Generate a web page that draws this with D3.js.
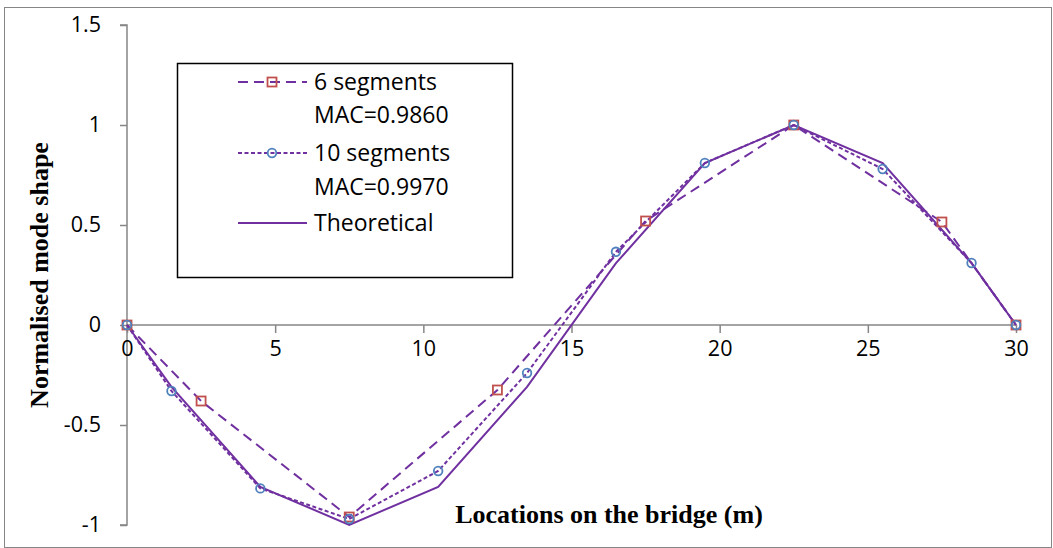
<!DOCTYPE html>
<html>
<head>
<meta charset="utf-8">
<script src="https://cdn.jsdelivr.net/npm/d3@7"></script>
<style>
  html, body { margin: 0; padding: 0; background: #fff; }
  svg { display: block; }
</style>
</head>
<body>
<svg id="chart" width="1053" height="548"></svg>
<script>
// Mode shape along the bridge: measured (6 and 10 segment) vs theoretical
const seg6X = [0, 2.5, 7.5, 12.5, 17.5, 22.5, 27.5, 30];
const seg6Y = [0, -0.38, -0.96, -0.325, 0.52, 1.0, 0.515, 0];

const seg10X = [0, 1.5, 4.5, 7.5, 10.5, 13.5, 16.5, 19.5, 22.5, 25.5, 28.5, 30];
const seg10Y = [0, -0.33, -0.817, -0.97, -0.73, -0.24, 0.366, 0.81, 1.0, 0.78, 0.31, 0];

const theoX = [0, 1.5, 4.5, 7.5, 10.5, 13.5, 16.5, 19.5, 22.5, 25.5, 28.5, 30];
const theoY = [0, -0.309, -0.809, -1.0, -0.809, -0.309, 0.309, 0.809, 1.0, 0.809, 0.309, 0];

const xTicks = [0, 5, 10, 15, 20, 25, 30];
const yTicks = [-1, -0.5, 0, 0.5, 1, 1.5];

const legendLabels = [["6 segments", "MAC=0.9860"], ["10 segments", "MAC=0.9970"], ["Theoretical"]];

const purple = "#7030A0";
const axisGrey = "#868686";
const sansFont = "'Open Sans', 'Noto Sans', sans-serif";
const serifFont = "'Liberation Serif', 'DejaVu Serif', serif";

const svg = d3.select("#chart");

// outer frame
svg.append("rect")
  .attr("x", 4.5).attr("y", 7.5)
  .attr("width", 1047).attr("height", 540)
  .attr("fill", "#fff").attr("stroke", axisGrey).attr("stroke-width", 1);

const x = d3.scaleLinear().domain([0, 30]).range([127, 1016]);
const y = d3.scaleLinear().domain([-1, 1.5]).range([525, 25]);

// y axis (left)
const yAxis = svg.append("g")
  .attr("transform", `translate(${x(0)},0)`)
  .call(d3.axisLeft(y).tickValues(yTicks).tickSize(7).tickPadding(19)
    .tickFormat(d => String(d)));
yAxis.select(".domain").attr("stroke", axisGrey).attr("stroke-width", 1.5)
  .attr("d", `M-7,${y(1.5)}H0V${y(-1)}H-7`);
yAxis.selectAll(".tick line").attr("stroke", axisGrey).attr("stroke-width", 1.5);
yAxis.selectAll(".tick text")
  .attr("font-family", sansFont).attr("font-size", 21.5).attr("fill", "#000");

// x axis at zero
const xAxis = svg.append("g")
  .attr("transform", `translate(0,${y(0)})`)
  .call(d3.axisBottom(x).tickValues(xTicks).tickSize(8).tickPadding(8)
    .tickFormat(d => String(d)));
xAxis.select(".domain").attr("stroke", axisGrey).attr("stroke-width", 1.5)
  .attr("d", `M${x(0)},0H${x(30)}`);
xAxis.selectAll(".tick line").attr("stroke", axisGrey).attr("stroke-width", 1.5);
xAxis.selectAll(".tick text")
  .attr("font-family", sansFont).attr("font-size", 21.5).attr("fill", "#000");

// axis titles
svg.append("text")
  .attr("x", 609).attr("y", 523)
  .attr("text-anchor", "middle")
  .attr("font-family", serifFont).attr("font-weight", "bold").attr("font-size", 26)
  .attr("fill", "#000")
  .text("Locations on the bridge (m)");

svg.append("text")
  .attr("transform", "translate(48,275) rotate(-90)")
  .attr("text-anchor", "middle")
  .attr("font-family", serifFont).attr("font-weight", "bold").attr("font-size", 26)
  .attr("fill", "#000")
  .text("Normalised mode shape");

const line = d3.line().x(d => x(d[0])).y(d => y(d[1]));

const series = [
  { xs: seg6X, ys: seg6Y, dash: "10,6", marker: "square", color: "#C0504D" },
  { xs: seg10X, ys: seg10Y, dash: "4,2.5", marker: "circle", color: "#4F81BD" },
  { xs: theoX, ys: theoY, dash: null, marker: null }
];

const plot = svg.append("g");
series.forEach(s => {
  const pts = s.xs.map((v, i) => [v, s.ys[i]]);
  plot.append("path")
    .datum(pts)
    .attr("d", line)
    .attr("fill", "none")
    .attr("stroke", purple)
    .attr("stroke-width", 2)
    .attr("stroke-dasharray", s.dash);
});

function drawMarker(g, kind, color, cx, cy) {
  if (kind === "square") {
    g.append("rect")
      .attr("x", cx - 4.5).attr("y", cy - 4.5)
      .attr("width", 9).attr("height", 9)
      .attr("fill", "none").attr("stroke", color).attr("stroke-width", 1.8);
  } else if (kind === "circle") {
    g.append("circle")
      .attr("cx", cx).attr("cy", cy).attr("r", 4.3)
      .attr("fill", "none").attr("stroke", color).attr("stroke-width", 1.8);
  }
}

series.forEach(s => {
  if (!s.marker) return;
  const g = plot.append("g");
  s.xs.forEach((v, i) => drawMarker(g, s.marker, s.color, x(v), y(s.ys[i])));
});

// legend
const legend = svg.append("g");
legend.append("rect")
  .attr("x", 177.5).attr("y", 63.5)
  .attr("width", 335).attr("height", 214)
  .attr("fill", "#fff").attr("stroke", "#000").attr("stroke-width", 1.5);

const rowY = [[82, 115], [153, 187], [223]];
series.forEach((s, i) => {
  const ly = rowY[i][0];
  legend.append("line")
    .attr("x1", 238).attr("x2", 307).attr("y1", ly).attr("y2", ly)
    .attr("stroke", purple).attr("stroke-width", 2)
    .attr("stroke-dasharray", s.dash);
  if (s.marker) drawMarker(legend, s.marker, s.color, 272, ly);
  legendLabels[i].forEach((t, j) => {
    legend.append("text")
      .attr("x", 314).attr("y", rowY[i][j])
      .attr("dy", "0.35em")
      .attr("font-family", sansFont).attr("font-size", 23).attr("fill", "#000")
      .text(t);
  });
});
</script>
</body>
</html>
